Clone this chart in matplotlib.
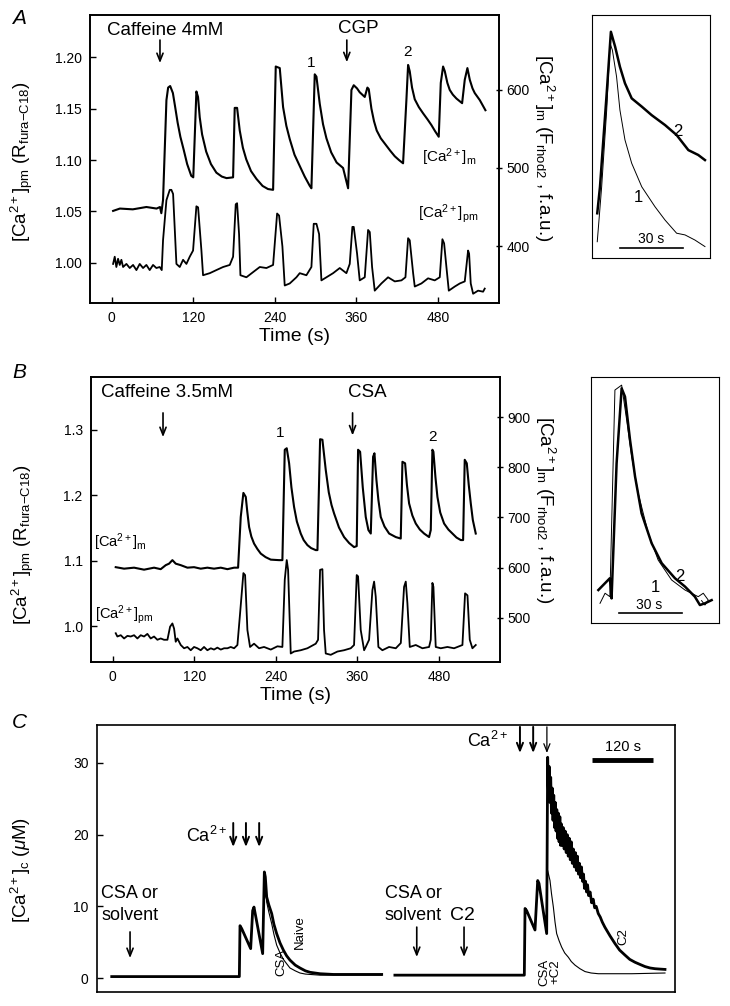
import matplotlib
matplotlib.use("Agg")
import matplotlib.pyplot as plt

plt.rcParams['font.family'] = ['Liberation Sans', 'DejaVu Sans']
plt.rcParams['mathtext.fontset'] = 'custom'
plt.rcParams['mathtext.rm'] = 'Liberation Sans'
plt.rcParams['mathtext.it'] = 'Liberation Sans:italic'
plt.rcParams['mathtext.bf'] = 'Liberation Sans:bold'

# ---------------- Panel A data ----------------
a_time_ticks = [0, 120, 240, 360, 480]
a_left_ticks = [1.00, 1.05, 1.10, 1.15, 1.20]
a_right_ticks = [400, 500, 600]

# [Ca2+]m (rhod2, right axis)
a_m_t = [2, 12, 31, 51, 66, 71, 73, 75.5, 80.5, 83, 86, 90, 93, 97, 101, 106, 111, 117, 120,
         124.6, 127, 129.5, 133, 139, 146, 154, 162, 169, 178.6,
         181, 184.5, 188.4, 193, 198, 205, 213, 222, 230, 237.5,
         241.4, 247.3, 252.2, 257, 262, 269, 277, 284, 291.5, 293.9,
         298.8, 301.3, 306.2, 311, 316, 323, 331, 340.5, 347.9,
         352.8, 356.2, 361, 365, 372.4, 376.3, 378.3, 382.2, 386, 390, 396, 403, 410, 416.6, 423, 428.8,
         433.7, 436.2, 438.6, 442, 446, 452, 458.3, 465, 470.5, 476, 481.3,
         484.3, 487.7, 490.2, 494, 497.5, 502, 507.3, 515.7,
         519.6, 523.5, 527, 531, 534.3, 541.7, 550]
a_m_v = [445, 448, 447, 450, 448, 450, 442, 459, 587, 603, 605, 596, 580, 558, 540, 523, 505, 490, 488,
         598, 591, 565, 543, 521, 505, 494, 489, 487, 488,
         577, 577, 548, 526, 511, 496, 486, 477, 473, 472,
         630, 628, 578, 554, 537, 517, 502, 489, 477, 474,
         620, 617, 582, 556, 538, 520, 507, 500, 474,
         600, 606, 602, 597, 591, 603, 601, 576, 560, 548, 538, 530, 522, 515, 510, 506,
         587, 632, 624, 603, 588, 578, 570, 562, 555, 547, 540,
         609, 630, 624, 609, 600, 594, 589, 583,
         613, 628, 613, 602, 596, 587, 574]

# [Ca2+]pm (fura-C18 ratio, left axis)
a_pm_t = [2, 4.4, 6.8, 9.3, 11.8, 14.2, 16.7, 21.6, 26.5, 31.4, 36.3, 41.2, 46.1, 51, 55.9, 60.8, 65.7,
          70.6, 73.6, 75.5, 80.5, 85.4, 87.8, 90.3, 95.2, 100.1, 105, 109.9, 114.8, 119.7, 124.6, 127.1,
          132, 134.4, 144.3, 154, 163.9, 173.7, 178.6, 182.5, 184.5, 187.4, 189.4, 198.2, 208, 217.9,
          227.7, 237.5, 243.4, 246.3, 251.2, 254.6, 262, 271.8, 276.7, 286.5, 293.9, 297.3, 301.3, 305.2,
          308.6, 316, 325.8, 335.6, 345.4, 350.3, 354.2, 356.2, 361.1, 365, 372.4, 377.3, 379.8, 383.2,
          387.1, 396.9, 406.7, 416.6, 426.4, 432.3, 436.2, 438.6, 443.6, 446, 455.8, 465.6, 475.4, 482.8,
          486.7, 489.2, 492.6, 496.1, 504.9, 512.3, 519.6, 524.5, 526, 528.4, 531.9, 539.2, 546.6, 549]
a_pm_v = [0.999, 1.006, 0.996, 1.004, 0.998, 1.003, 0.996, 0.999, 0.995, 0.998,
          0.993, 0.999, 0.995, 0.998, 0.993, 0.998, 0.995, 0.996, 0.993, 1.022,
          1.061, 1.071, 1.071, 1.067, 0.999, 0.996, 1.003, 0.999, 1.006, 1.012,
          1.055, 1.054, 1.012, 0.988, 0.990, 0.993, 0.996, 0.998, 1.006, 1.057,
          1.058, 1.028, 0.988, 0.986, 0.991, 0.996, 0.995, 0.998, 1.048, 1.046,
          1.016, 0.978, 0.980, 0.986, 0.990, 0.988, 0.996, 1.038, 1.038, 1.028,
          0.983, 0.986, 0.990, 0.995, 0.990, 0.999, 1.035, 1.035, 1.009, 0.983,
          0.986, 1.032, 1.030, 0.996, 0.973, 0.980, 0.986, 0.982, 0.983, 0.986,
          1.024, 1.022, 0.990, 0.977, 0.980, 0.985, 0.983, 0.986, 1.023, 1.019,
          0.996, 0.973, 0.977, 0.980, 0.982, 1.012, 1.009, 0.980, 0.970, 0.973,
          0.972, 0.975]

# inset A: normalised transients (seconds, arbitrary units)
ia_t2 = [2.5, 3.8, 5.4, 7.0, 9.0, 11.0, 13.3, 15.7, 18.9, 23.7, 28.4, 34.8, 40.3, 45.9, 50.6, 53.8]
ia_v2 = [18.4, 29.3, 48.6, 67.8, 93.1, 87.0, 78.7, 71.9, 65.7, 62.3, 58.8, 54.7, 50.6, 44.4, 42.4, 40.3]
ia_t1 = [2.5, 4.6, 7.0, 8.6, 9.7, 11.7, 13.3, 15.7, 18.9, 23.7, 30.0, 34.8, 40.3, 44.3, 49.0, 53.8]
ia_v1 = [6.7, 29.3, 60.9, 88.3, 85.6, 74.6, 60.9, 48.6, 39.0, 29.3, 21.1, 15.6, 10.2, 9.5, 7.4, 4.7]

# ---------------- Panel B data ----------------
b_left_ticks = [1.0, 1.1, 1.2, 1.3]
b_right_ticks = [500, 600, 700, 800, 900]

b_m_t = [4.4, 16.7, 31.4, 46.1, 60.8, 70.6, 78, 82.9, 87.8, 92.7,
         100.1, 109.9, 119.7, 129.5, 139.3, 149.1, 159, 168.8, 178.6, 184.5,
         188.4, 192.3, 195.8, 198, 200.7, 204, 208, 213, 217.9, 225, 232.6, 244.8, 249.7,
         253.2, 256.1, 259.6, 263, 266.9, 271, 276.7, 281, 286.5, 292, 298.8, 301.3,
         305.2, 308.6, 313.5, 318, 322, 325.8, 333, 340.5, 348, 355.2, 359.1,
         361.1, 364.1, 368, 372.4, 376.3, 379.8,
         383.2, 385.2, 388.1, 391, 394.5, 400, 406.8, 416.6, 423.9,
         426.4, 430.3, 433, 436.2, 441, 446, 452, 458.3, 465.6, 468.1,
         470.5, 472, 475, 477.9, 482, 487.7, 494, 500, 506, 512.3, 515.7,
         518.1, 521.1, 524, 527, 530, 534.3]
b_m_v = [601, 598, 600, 596, 600, 597, 605, 608, 615, 608,
         605, 600, 601, 598, 600, 598, 600, 597, 600, 600,
         701, 749, 741, 712, 681, 662, 648, 637, 628, 621, 616, 615, 615,
         835, 838, 808, 760, 721, 692, 668, 655, 645, 639, 635, 635,
         856, 855, 795, 750, 725, 708, 680, 661, 649, 641, 643,
         835, 831, 760, 701, 675, 668,
         821, 828, 775, 735, 701, 682, 668, 661, 658,
         811, 808, 765, 728, 704, 688, 676, 668, 661, 675,
         835, 831, 780, 741, 710, 688, 676, 668, 660, 655, 655,
         815, 808, 765, 728, 695, 668]

b_pm_t = [4.4, 6.8, 11.8, 16.7, 21.6, 26.5, 31.4, 36.3, 41.2, 46.1,
          51, 55.9, 60.8, 65.7, 70.6, 75.5, 80.5, 84.4, 87.8, 90.3,
          92.7, 95.2, 100.1, 105, 109.9, 114.8, 119.7, 124.6, 129.5, 134.4,
          139.3, 144.3, 149.1, 154, 159, 163.9, 168.8, 173.7, 178.6, 183.5,
          187.4, 192.3, 194.8, 198.2, 202.1, 208, 215.4, 222.7, 232.6, 242.4,
          249.7, 253.2, 256.1, 258.1, 262, 266.9, 276.7, 286.5, 298.8, 302.2,
          305.2, 308.6, 311, 313.5, 320.9, 330.7, 340.5, 350.3, 355.2, 359.1,
          361.1, 365, 370, 372.4, 377.3, 382.2, 384.7, 387.1, 391, 396.9,
          406.7, 416.6, 424, 428.8, 431.3, 433.7, 437.2, 446, 455.8, 465.6,
          468.1, 470.5, 472, 475.4, 482.8, 492.6, 502.4, 514.7, 518.6, 522.1,
          525.5, 529.4, 534.3]
b_pm_v = [0.989, 0.984, 0.986, 0.981, 0.985, 0.984, 0.986, 0.981, 0.986, 0.984,
          0.988, 0.981, 0.984, 0.979, 0.981, 0.979, 0.979, 0.999, 1.004, 0.996,
          0.976, 0.981, 0.971, 0.966, 0.968, 0.963, 0.968, 0.966, 0.963, 0.968,
          0.963, 0.966, 0.964, 0.967, 0.964, 0.966, 0.966, 0.968, 0.966, 0.971,
          1.019, 1.081, 1.078, 0.994, 0.968, 0.973, 0.966, 0.968, 0.964, 0.969,
          0.968, 1.071, 1.101, 1.086, 0.958, 0.961, 0.963, 0.966, 0.973, 0.979,
          1.086, 1.087, 0.994, 0.958, 0.956, 0.961, 0.963, 0.966, 0.971, 1.078,
          1.076, 0.994, 0.963, 0.968, 0.979, 1.055, 1.068, 1.045, 0.968, 0.963,
          0.968, 0.966, 0.974, 1.060, 1.068, 1.035, 0.968, 0.971, 0.966, 0.968,
          0.979, 1.066, 1.060, 0.968, 0.966, 0.968, 0.966, 0.971, 1.050, 1.047,
          0.979, 0.966, 0.971]

ib_t2 = [3.5, 9.0, 9.8, 12.2, 14.6, 16.2, 18.6, 21.0, 24.1, 28.9, 33.7, 40.0, 44.8, 49.5, 51.9, 54.3, 57.5]
ib_v2 = [13.4, 18.2, 10.0, 64.9, 95.4, 92.0, 74.4, 59.5, 44.6, 32.4, 24.3, 18.2, 14.8, 10.7, 7.3, 8.0, 9.3]
ib_t1 = [4.3, 6.7, 9.0, 11.4, 14.6, 17.0, 19.4, 22.5, 27.3, 32.0, 38.4, 44.8, 51.1, 53.5, 55.9, 54.3, 52.7]
ib_v1 = [8.0, 12.1, 10.7, 94.7, 96.7, 82.5, 67.6, 52.7, 36.5, 25.6, 17.5, 13.4, 10.7, 12.1, 9.3, 7.3, 9.1]

# ---------------- Panel C data ----------------
c_ticks = [0, 10, 20, 30]
c1_t = [29, 280, 281.3, 284.6, 302.3, 306.2, 308.8, 325.9, 329.2, 331.1, 333.8, 338, 343.6, 348, 353.4,
        360, 366.6, 373, 379.6, 390, 399.3, 410, 419, 438.7, 464.9, 527, 560]
c1_naive = [0.2, 0.2, 7.3, 6.9, 4.1, 9.4, 9.9, 3.4, 14.8, 14.1, 11.3, 10.2, 9.0, 7.5, 6.2,
            4.9, 3.9, 3.1, 2.5, 1.8, 1.4, 1.0, 0.8, 0.6, 0.5, 0.5, 0.5]
c1_csa = [0.2, 0.2, 7.3, 6.9, 4.1, 9.4, 9.9, 3.4, 14.8, 14.1, 10.6, 9.2, 7.6, 6.1, 4.6,
          3.5, 2.6, 2.0, 1.4, 1.0, 0.7, 0.55, 0.5, 0.4, 0.4, 0.4, 0.4]

c2_t = [586, 840.6, 842, 845.2, 861.6, 866.9, 869.5, 884.6, 886.5, 888, 889.5, 891, 892.5, 894, 895.5,
        897, 898.5, 900, 901.5, 903, 904.5, 906, 907.5, 909, 910.5, 912, 913.5, 915, 917, 919, 921, 923,
        925, 927, 929, 931, 933, 935, 937, 939, 941, 943, 945, 947, 949, 951, 953, 955, 957, 959, 961,
        963, 965, 967, 970, 973, 976, 979, 982, 986, 990, 994, 999, 1009, 1019, 1028, 1038.6, 1048,
        1058.3, 1068, 1078, 1088, 1097.6, 1107, 1117.3]
c2_c2 = [0.4, 0.4, 9.7, 9.4, 6.7, 13.6, 13.2, 6.2, 30.8, 26, 29.5, 24.5, 28, 23, 26.5,
         22, 25.5, 21, 24.5, 20.5, 23.5, 19.5, 23, 19, 22.5, 18.5, 21.5, 18.5, 21, 18, 20.5, 17.5,
         20, 17, 19.5, 16.5, 19, 16, 18, 15.5, 17.5, 15, 17, 14.5, 16, 14, 15.5, 13.5, 14.5, 12.5, 13.5,
         12, 13, 11.5, 12, 10.5, 11, 9.8, 10, 9, 8.5, 7.8, 7.1, 5.9, 4.8, 3.9, 3.2, 2.6,
         2.2, 1.9, 1.6, 1.4, 1.3, 1.25, 1.2]
c2_csa_t = [586, 840.6, 842, 845.2, 861.6, 866.9, 869.5, 884.6, 886.5, 891.1, 894, 897.7, 901, 904.2, 909,
            914.1, 920, 927.2, 933, 940.3, 950, 960, 972, 986.2, 1052, 1117.3]
c2_csa = [0.4, 0.4, 9.7, 9.4, 6.7, 13.6, 13.2, 6.2, 15.0, 13.6, 11.8, 9.9, 7.8, 6.2, 5.2,
          4.3, 3.5, 2.9, 2.3, 1.8, 1.3, 0.9, 0.7, 0.6, 0.6, 0.7]

ca_times_1 = [268, 293, 319]
ca_times_2 = [832, 858, 885]

# ---------------- figure ----------------
W, H = 730, 1006
fig = plt.figure(figsize=(7.3, 10.06), dpi=100)


def box(l, t, r, b):
    return [l / W, 1 - b / H, (r - l) / W, (b - t) / H]


def down_arrow(ax, x, y0, y1, lw=1.2):
    tr = ax.get_xaxis_transform()
    ax.annotate('', xy=(x, y1), xytext=(x, y0), xycoords=tr, textcoords=tr,
                arrowprops=dict(arrowstyle='->,head_width=0.22,head_length=0.55', lw=lw, color='k',
                                shrinkA=0, shrinkB=0))


def style(ax):
    ax.tick_params(direction='in', length=4, width=1, labelsize=10, pad=6)
    for s in ax.spines.values():
        s.set_linewidth(1.2)


ylab_pm = r'[Ca$^{2+}$]$_\mathrm{pm}$ (R$_\mathrm{fura\mathrm{-}C18}$)'
ylab_m = r'[Ca$^{2+}$]$_\mathrm{m}$ (F$_\mathrm{rhod2}$ , f.a.u.)'

# ----- A -----
axA = fig.add_axes(box(90, 15, 499, 303))
axA2 = axA.twinx()
axA.plot(a_pm_t, a_pm_v, color='k', lw=1.3)
axA2.plot(a_m_t, a_m_v, color='k', lw=1.5)
axA.set_xlim(-32, 570)
axA.set_ylim(0.961, 1.241)
axA2.set_ylim(327, 696)
axA.set_xticks(a_time_ticks)
axA.set_yticks(a_left_ticks)
axA.set_yticklabels(['%.2f' % v for v in a_left_ticks])
axA2.set_yticks(a_right_ticks)
style(axA)
style(axA2)
axA2.tick_params(direction='inout', length=5, pad=3)
axA.set_xlabel('Time (s)', fontsize=14, labelpad=2)
axA.set_ylabel(ylab_pm, fontsize=13.5)
axA.yaxis.set_label_coords(-0.135, 0.49)
axA2.set_ylabel(ylab_m, fontsize=13.5, rotation=270)
axA2.yaxis.set_label_coords(1.14, 0.54)
axA.text(-7, 0.945, 'Caffeine 4mM', transform=axA.get_xaxis_transform(), fontsize=13.5, va='center')
down_arrow(axA, 71, 0.913, 0.833)
axA.text(363, 0.952, 'CGP', transform=axA.get_xaxis_transform(), fontsize=13.5, va='center', ha='center')
down_arrow(axA, 346, 0.913, 0.836)
axA.text(294, 0.833, '1', transform=axA.get_xaxis_transform(), fontsize=11, ha='center', va='center')
axA.text(436, 0.872, '2', transform=axA.get_xaxis_transform(), fontsize=11, ha='center', va='center')
axA.text(456, 0.507, r'[Ca$^{2+}$]$_\mathrm{m}$', transform=axA.get_xaxis_transform(), fontsize=11,
         va='center')
axA.text(451, 0.312, r'[Ca$^{2+}$]$_\mathrm{pm}$', transform=axA.get_xaxis_transform(), fontsize=11,
         va='center')

iaxA = fig.add_axes(box(592, 15, 710, 258))
iaxA.plot(ia_t1, ia_v1, color='k', lw=0.7)
iaxA.plot(ia_t2, ia_v2, color='k', lw=1.8)
iaxA.set_xlim(0, 56.2)
iaxA.set_ylim(0, 100)
iaxA.set_xticks([])
iaxA.set_yticks([])
for s in iaxA.spines.values():
    s.set_linewidth(0.8)
iaxA.plot([13.3, 43.3], [4.1, 4.1], color='k', lw=1.2)
iaxA.text(28.3, 5.0, '30 s', ha='center', va='bottom', fontsize=10)
iaxA.text(21.9, 25.1, '1', ha='center', va='center', fontsize=12)
iaxA.text(41.0, 51.9, '2', ha='center', va='center', fontsize=12)

# ----- B -----
axB = fig.add_axes(box(91, 377, 500, 662))
axB2 = axB.twinx()
axB.plot(b_pm_t, b_pm_v, color='k', lw=1.3)
axB2.plot(b_m_t, b_m_v, color='k', lw=1.5)
axB.set_xlim(-32, 570)
axB.set_ylim(0.945, 1.381)
axB2.set_ylim(412, 980)
axB.set_xticks(a_time_ticks)
axB.set_yticks(b_left_ticks)
axB.set_yticklabels(['%.1f' % v for v in b_left_ticks])
axB2.set_yticks(b_right_ticks)
style(axB)
style(axB2)
axB2.tick_params(direction='inout', length=5, pad=3)
axB.set_xlabel('Time (s)', fontsize=14, labelpad=2)
axB.set_ylabel(ylab_pm, fontsize=13.5)
axB.yaxis.set_label_coords(-0.135, 0.41)
axB2.set_ylabel(ylab_m, fontsize=13.5, rotation=270)
axB2.yaxis.set_label_coords(1.14, 0.533)
axB.text(-18, 0.944, 'Caffeine 3.5mM', transform=axB.get_xaxis_transform(), fontsize=13.5, va='center')
down_arrow(axB, 74, 0.874, 0.789)
axB.text(375, 0.944, 'CSA', transform=axB.get_xaxis_transform(), fontsize=13.5, va='center', ha='center')
down_arrow(axB, 353, 0.874, 0.795)
axB.text(247, 0.804, '1', transform=axB.get_xaxis_transform(), fontsize=11, ha='center', va='center')
axB.text(470, 0.789, '2', transform=axB.get_xaxis_transform(), fontsize=11, ha='center', va='center')
axB.text(-27, 0.421, r'[Ca$^{2+}$]$_\mathrm{m}$', transform=axB.get_xaxis_transform(), fontsize=10.5,
         va='center')
axB.text(-26, 0.165, r'[Ca$^{2+}$]$_\mathrm{pm}$', transform=axB.get_xaxis_transform(), fontsize=10.5,
         va='center')

iaxB = fig.add_axes(box(591, 377, 719, 623))
iaxB.plot(ib_t1, ib_v1, color='k', lw=0.7)
iaxB.plot(ib_t2, ib_v2, color='k', lw=1.8)
iaxB.set_xlim(0, 61)
iaxB.set_ylim(0, 100)
iaxB.set_xticks([])
iaxB.set_yticks([])
for s in iaxB.spines.values():
    s.set_linewidth(0.8)
iaxB.plot([13.3, 43.3], [4.1, 4.1], color='k', lw=1.2)
iaxB.text(27.5, 4.6, '30 s', ha='center', va='bottom', fontsize=10)
iaxB.text(30.5, 14.5, '1', ha='center', va='center', fontsize=12)
iaxB.text(42.4, 19.0, '2', ha='center', va='center', fontsize=12)

# ----- C -----
axC = fig.add_axes(box(97, 725, 675, 992))
axC.plot(c1_t, c1_csa, color='k', lw=0.8)
axC.plot(c1_t, c1_naive, color='k', lw=2.0)
axC.plot(c2_t, c2_c2, color='k', lw=2.0)
axC.plot(c2_csa_t, c2_csa, color='k', lw=0.8)
axC.set_xlim(0, 1137)
axC.set_ylim(-1.95, 35.3)
axC.set_xticks([])
axC.set_yticks(c_ticks)
style(axC)
axC.set_ylabel(r'[Ca$^{2+}$]$_\mathrm{c}$ ($\mu$M)', fontsize=13.5)
axC.yaxis.set_label_coords(-0.111, 0.457)
tC = axC.get_xaxis_transform()
axC.text(255, 0.585, r'Ca$^{2+}$', transform=tC, fontsize=13, ha='right', va='center')
for t in ca_times_1:
    down_arrow(axC, t, 0.633, 0.543, lw=1.4)
axC.text(808, 0.94, r'Ca$^{2+}$', transform=tC, fontsize=13, ha='right', va='center')
for i, t in enumerate(ca_times_2):
    down_arrow(axC, t, 0.993, 0.895, lw=1.4 if i < 2 else 0.9)
axC.text(8, 0.37, 'CSA or', transform=tC, fontsize=13, va='center')
axC.text(8, 0.288, 'solvent', transform=tC, fontsize=13, va='center')
down_arrow(axC, 65, 0.225, 0.127)
axC.text(566, 0.37, 'CSA or', transform=tC, fontsize=13, va='center')
axC.text(566, 0.288, 'solvent', transform=tC, fontsize=13, va='center')
axC.text(694, 0.285, 'C2', transform=tC, fontsize=14, va='center')
down_arrow(axC, 629, 0.243, 0.131)
down_arrow(axC, 722, 0.243, 0.131)
axC.text(362, 0.112, 'CSA', transform=tC, fontsize=9.5, rotation=90, ha='center', va='center')
axC.text(399, 0.225, 'Naive', transform=tC, fontsize=9.5, rotation=90, ha='center', va='center')
axC.text(891, 0.075, 'CSA\n+C2', transform=tC, fontsize=9.5, rotation=90, ha='center', va='center',
         linespacing=0.9)
axC.text(1035, 0.206, 'C2', transform=tC, fontsize=9.5, rotation=90, ha='center', va='center')
axC.plot([974, 1094], [0.869, 0.869], transform=tC, color='k', lw=3.5, solid_capstyle='butt')
axC.text(1034, 0.918, '120 s', transform=tC, fontsize=10.5, ha='center', va='center')

# panel letters
fig.text(12 / W, 1 - 18 / H, 'A', fontsize=15, style='italic', va='center')
fig.text(12 / W, 1 - 373 / H, 'B', fontsize=15, style='italic', va='center')
fig.text(12 / W, 1 - 722 / H, 'C', fontsize=15, style='italic', va='center')

fig.savefig('out.png', dpi=100)
